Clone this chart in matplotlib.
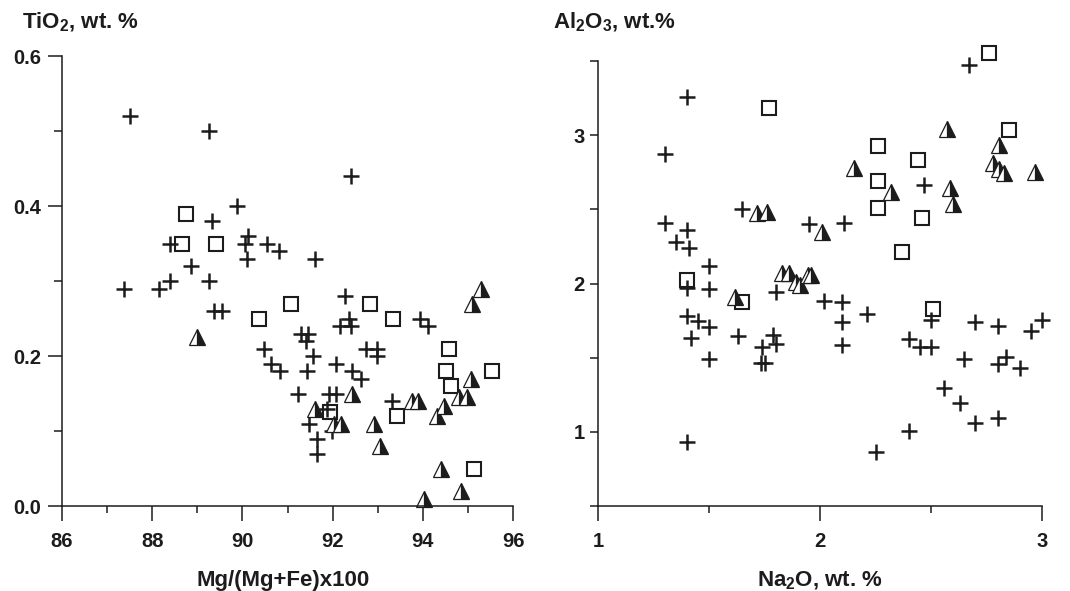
"""Two-panel scatter: TiO2 vs Mg# and Al2O3 vs Na2O, three sample groups."""

import matplotlib

matplotlib.use("Agg")
import matplotlib.pyplot as plt
from matplotlib.ticker import FixedLocator, NullFormatter

plt.rcParams["font.family"] = ["Liberation Sans", "DejaVu Sans"]
plt.rcParams["font.weight"] = "bold"
plt.rcParams["xtick.labelsize"] = 14.5
plt.rcParams["ytick.labelsize"] = 14.5
plt.rcParams["mathtext.fontset"] = "custom"
plt.rcParams["mathtext.rm"] = "Liberation Sans:bold"
plt.rcParams["mathtext.default"] = "rm"

INK = "#1c1c1c"

# ---- left panel: Mg/(Mg+Fe)x100 vs TiO2 ----
mg_plus = [87.5, 89.26, 92.41, 89.89, 89.32, 88.39, 90.13, 90.06, 90.54, 90.81,
           90.1, 91.61, 88.85, 87.38, 88.15, 88.39, 89.26, 89.38, 89.54, 91.31,
           91.46, 91.41, 90.48, 91.57, 90.63, 90.83, 91.43, 91.23, 91.48, 91.66,
           91.66, 92.28, 92.36, 92.16, 92.4, 93.94, 94.12, 92.73, 92.98, 92.98,
           92.08, 92.44, 92.64, 91.92, 92.08, 93.31, 91.87, 91.98]
ti_plus = [0.52, 0.50, 0.44, 0.40, 0.38, 0.35, 0.36, 0.35, 0.35, 0.34,
           0.33, 0.33, 0.32, 0.29, 0.29, 0.30, 0.30, 0.26, 0.26, 0.23,
           0.23, 0.22, 0.21, 0.20, 0.19, 0.18, 0.18, 0.15, 0.11, 0.09,
           0.07, 0.28, 0.25, 0.24, 0.24, 0.25, 0.24, 0.21, 0.21, 0.20,
           0.19, 0.18, 0.17, 0.15, 0.15, 0.14, 0.13, 0.10]

mg_sq = [88.76, 88.65, 89.41, 91.08, 90.37, 92.84, 93.34, 94.58, 94.51, 94.62,
         95.54, 93.42, 91.94, 95.14]
ti_sq = [0.39, 0.35, 0.35, 0.27, 0.25, 0.27, 0.25, 0.21, 0.18, 0.16,
         0.18, 0.12, 0.125, 0.05]

mg_tri = [89.0, 91.61, 95.3, 95.08, 95.06, 94.81, 94.97, 94.46, 94.32, 92.42,
          93.75, 93.9, 92.02, 92.19, 92.92, 93.05, 94.4, 94.84, 94.03]
ti_tri = [0.225, 0.13, 0.29, 0.27, 0.17, 0.145, 0.145, 0.133, 0.12, 0.15,
          0.14, 0.14, 0.11, 0.11, 0.11, 0.08, 0.05, 0.02, 0.01]

# ---- right panel: Na2O vs Al2O3 ----
na_plus = [1.40, 1.30, 1.65, 1.95, 1.30, 1.40, 1.35, 1.41, 1.50, 1.40,
           1.50, 1.80, 1.40, 1.45, 1.50, 1.42, 1.63, 1.79, 1.74, 1.80,
           1.735, 1.75, 1.50, 1.40, 2.67, 2.47, 2.11, 2.02, 2.10, 2.21,
           2.10, 2.10, 2.50, 2.70, 2.80, 2.95, 3.00, 2.40, 2.45, 2.50,
           2.65, 2.80, 2.84, 2.90, 2.56, 2.63, 2.70, 2.80, 2.40, 2.25]
al_plus = [3.26, 2.87, 2.50, 2.40, 2.41, 2.36, 2.28, 2.24, 2.12, 1.97,
           1.96, 1.945, 1.78, 1.75, 1.705, 1.635, 1.645, 1.65, 1.575, 1.59,
           1.465, 1.465, 1.49, 0.93, 3.47, 2.665, 2.41, 1.885, 1.878, 1.795,
           1.743, 1.586, 1.754, 1.743, 1.716, 1.682, 1.754, 1.626, 1.57, 1.57,
           1.49, 1.455, 1.507, 1.428, 1.297, 1.197, 1.058, 1.095, 1.006, 0.862]

na_sq = [1.77, 1.40, 1.65, 2.76, 2.85, 2.26, 2.44, 2.26, 2.26, 2.46, 2.37, 2.51]
al_sq = [3.186, 2.024, 1.877, 3.556, 3.035, 2.928, 2.83, 2.69, 2.507, 2.444,
         2.215, 1.826]

na_tri = [1.715, 1.76, 1.617, 1.83, 1.86, 1.89, 1.91, 1.945, 1.96,
          2.57, 2.806, 2.155, 2.778, 2.808, 2.83, 2.97, 2.32, 2.586, 2.60, 2.01]
al_tri = [2.478, 2.485, 1.911, 2.07, 2.07, 2.01, 1.99, 2.06, 2.06,
          3.04, 2.934, 2.781, 2.811, 2.77, 2.748, 2.754, 2.615, 2.642, 2.534, 2.345]


def _scatter(ax, xp, yp, xs, ys, xt, yt):
    """Draw the three groups: crosses, open squares, half-filled triangles."""
    ax.plot(xp, yp, ls="none", marker="+", ms=12, mew=1.8, color=INK,
            clip_on=False)
    ax.plot(xs, ys, ls="none", marker="s", ms=10, mew=1.5, mec=INK,
            mfc="none", clip_on=False)
    ax.plot(xt, yt, ls="none", marker="^", ms=11, mew=0.9, mec=INK,
            mfc=INK, mfcalt="white", fillstyle="right", clip_on=False)


def _style(ax):
    for side in ("top", "right"):
        ax.spines[side].set_visible(False)
    for side in ("left", "bottom"):
        ax.spines[side].set_linewidth(1.1)
        ax.spines[side].set_color(INK)
    ax.tick_params(which="both", direction="out", width=1.1, color=INK,
                   labelcolor=INK)
    for lab in ax.get_xticklabels() + ax.get_yticklabels():
        lab.set_fontweight("bold")


fig = plt.figure(figsize=(10.7, 5.91), dpi=100)

# left panel
ax1 = fig.add_axes([62 / 1070, 1 - 506 / 591, 451 / 1070, 450 / 591])
_scatter(ax1, mg_plus, ti_plus, mg_sq, ti_sq, mg_tri, ti_tri)
ax1.set_xlim(86, 96)
ax1.set_ylim(0, 0.6)
ax1.xaxis.set_major_locator(FixedLocator([86, 88, 90, 92, 94, 96]))
ax1.xaxis.set_minor_locator(FixedLocator([87, 89, 91, 93, 95]))
ax1.yaxis.set_major_locator(FixedLocator([0.0, 0.2, 0.4, 0.6]))
ax1.yaxis.set_minor_locator(FixedLocator([0.1, 0.3, 0.5]))
ax1.set_yticklabels(["0.0", "0.2", "0.4", "0.6"])
_style(ax1)
ax1.tick_params(axis="x", which="major", length=11, pad=8)
ax1.tick_params(axis="x", which="minor", length=5)
ax1.tick_params(axis="y", which="major", length=10, pad=5)
ax1.tick_params(axis="y", which="minor", length=5.5)
ax1.set_xlabel("Mg/(Mg+Fe)x100", fontsize=16, fontweight="bold", color=INK,
               va="baseline")
ax1.xaxis.set_label_coords(0.49, (506 - 586) / 450)
fig.text(22 / 1070, 1 - 28 / 591, "TiO$_2$, wt. %", fontsize=16,
         fontweight="bold", color=INK, va="baseline")

# right panel
ax2 = fig.add_axes([598 / 1070, 1 - 506 / 591, 444 / 1070, 445 / 591])
_scatter(ax2, na_plus, al_plus, na_sq, al_sq, na_tri, al_tri)
ax2.set_xlim(1, 3)
ax2.set_ylim(0.5, 3.5)
ax2.xaxis.set_major_locator(FixedLocator([1, 2, 3]))
ax2.xaxis.set_minor_locator(FixedLocator([1.5, 2.5]))
ax2.yaxis.set_major_locator(FixedLocator([1, 2, 3]))
ax2.yaxis.set_minor_locator(FixedLocator([0.5, 1.5, 2.5, 3.5]))
ax2.yaxis.set_minor_formatter(NullFormatter())
_style(ax2)
ax2.tick_params(axis="x", which="major", length=11, pad=8)
ax2.tick_params(axis="x", which="minor", length=5)
ax2.tick_params(axis="y", which="both", length=5.5, pad=4)
ax2.set_xlabel("Na$_2$O, wt. %", fontsize=16, fontweight="bold", color=INK,
               va="baseline")
ax2.xaxis.set_label_coords(0.5, (506 - 586) / 445)
fig.text(553 / 1070, 1 - 28 / 591, "Al$_2$O$_3$, wt.%", fontsize=16,
         fontweight="bold", color=INK, va="baseline")

fig.savefig("out.png", dpi=100)
plt.close(fig)
